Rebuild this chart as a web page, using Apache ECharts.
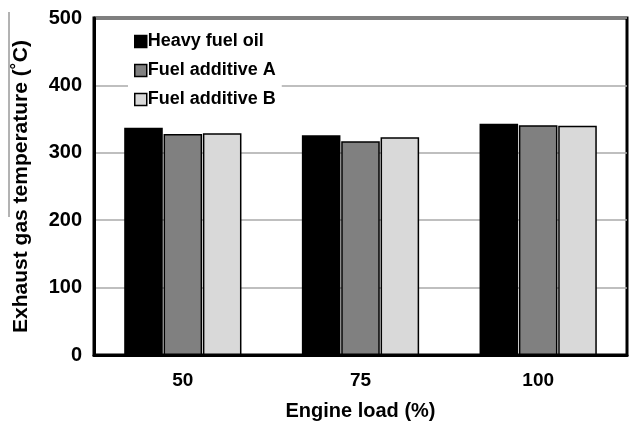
<!DOCTYPE html>
<html>
<head>
<meta charset="utf-8">
<script src="https://cdn.jsdelivr.net/npm/echarts@6/dist/echarts.min.js"></script>
<style>
  html, body { margin: 0; padding: 0; background: #fff; }
  #chart { width: 630px; height: 425px; }
</style>
</head>
<body>
<div id="chart"></div>
<script>
const categories = ['50', '75', '100'];
const seriesNames = ['Heavy fuel oil', 'Fuel additive A', 'Fuel additive B'];
const heavyFuelOil = [337, 326, 343];
const fuelAdditiveA = [328, 317, 341];
const fuelAdditiveB = [329, 323, 340];
const yTicks = [0, 100, 200, 300, 400, 500];

const colors = ['#000000', '#808080', '#d9d9d9'];
const font = 'Liberation Sans, Arial, sans-serif';

const chart = echarts.init(document.getElementById('chart'));

const makeSeries = (name, data, i) => ({
  name: name,
  type: 'bar',
  data: data,
  barCategoryGap: '34%',
  barGap: '2%',
  itemStyle: {
    color: colors[i],
    borderColor: '#000',
    borderWidth: 1.5,
  },
});

const option = {
  animation: false,
  color: colors,
  grid: {
    left: 94,
    right: 3,
    top: 18,
    bottom: 70,
    outerBoundsMode: 'none',
    show: true,
    borderColor: '#000',
    borderWidth: 3,
    backgroundColor: 'transparent',
  },
  graphic: [
    {
      type: 'line',
      shape: { x1: 9, y1: 12, x2: 9, y2: 217 },
      style: { stroke: '#666', lineWidth: 1 },
    },
  ],
  legend: {
    orient: 'vertical',
    left: 128,
    top: 30,
    itemWidth: 12,
    itemHeight: 12,
    itemGap: 10,
    padding: [2, 6, 2, 6],
    backgroundColor: '#fff',
    icon: 'rect',
    data: seriesNames.map((n, i) => ({
      name: n,
      itemStyle: { color: colors[i], borderColor: '#000', borderWidth: 1.5 },
    })),
    textStyle: {
      fontFamily: font,
      fontWeight: 'bold',
      fontSize: 18,
      lineHeight: 19,
      color: '#000',
      padding: [0, 0, 0, -4],
    },
  },
  xAxis: {
    type: 'category',
    data: categories,
    name: 'Engine load (%)',
    nameLocation: 'middle',
    nameGap: 46,
    nameTextStyle: {
      fontFamily: font,
      fontWeight: 'bold',
      fontSize: 20,
      color: '#000',
    },
    axisLine: { lineStyle: { color: '#000', width: 3 } },
    axisTick: { inside: true, length: 4, lineStyle: { color: '#555', width: 1 } },
    axisLabel: {
      fontFamily: font,
      fontWeight: 'bold',
      fontSize: 19,
      color: '#000',
      margin: 16,
    },
  },
  yAxis: {
    type: 'value',
    min: yTicks[0],
    max: yTicks[yTicks.length - 1],
    interval: 100,
    name: 'Exhaust gas temperature (\u02daC)',
    nameLocation: 'middle',
    nameGap: 62,
    nameRotate: 90,
    nameTextStyle: {
      fontFamily: font,
      fontWeight: 'bold',
      fontSize: 21,
      color: '#000',
    },
    axisLine: { show: true, lineStyle: { color: '#000', width: 3 } },
    axisTick: { show: false },
    axisLabel: {
      fontFamily: font,
      fontWeight: 'bold',
      fontSize: 20,
      color: '#000',
      margin: 12,
    },
    splitLine: { lineStyle: { color: '#aaaaaa', width: 1.5 } },
  },
  series: [
    makeSeries(seriesNames[0], heavyFuelOil, 0),
    makeSeries(seriesNames[1], fuelAdditiveA, 1),
    makeSeries(seriesNames[2], fuelAdditiveB, 2),
  ],
};

chart.setOption(option);
window.addEventListener('resize', () => chart.resize());
</script>
</body>
</html>
